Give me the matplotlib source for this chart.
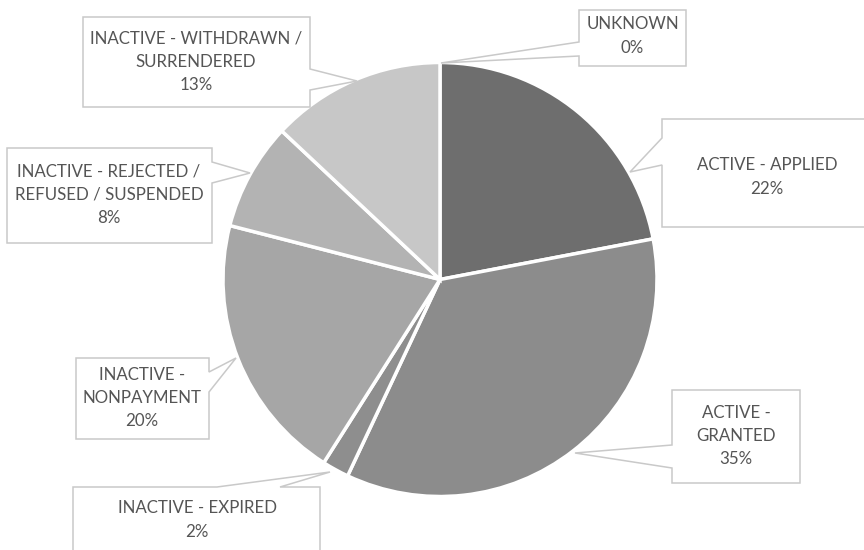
import matplotlib
matplotlib.use("Agg")
import matplotlib.pyplot as plt
from matplotlib.patches import Polygon

# Status breakdown, clockwise from 12 o'clock
categories = [
    "UNKNOWN",
    "ACTIVE - APPLIED",
    "ACTIVE - GRANTED",
    "INACTIVE - EXPIRED",
    "INACTIVE - NONPAYMENT",
    "INACTIVE - REJECTED / REFUSED / SUSPENDED",
    "INACTIVE - WITHDRAWN / SURRENDERED",
]
shares = [0, 22, 35, 2, 20, 8, 13]
label_text = [
    "UNKNOWN",
    "ACTIVE - APPLIED",
    "ACTIVE -\nGRANTED",
    "INACTIVE - EXPIRED",
    "INACTIVE -\nNONPAYMENT",
    "INACTIVE - REJECTED /\nREFUSED / SUSPENDED",
    "INACTIVE - WITHDRAWN /\nSURRENDERED",
]
colors = ["#7a7a7a", "#6e6e6e", "#8c8c8c", "#8e8e8e", "#a6a6a6", "#b3b3b3", "#c7c7c7"]

W, H = 864, 550
fig = plt.figure(figsize=(W / 100, H / 100), dpi=100)
ax = fig.add_axes([0, 0, 1, 1])


def Y(py):
    return H - py


ax.pie(shares, colors=colors, startangle=90, counterclock=False,
       center=(440, Y(279.5)), radius=217,
       wedgeprops=dict(edgecolor="white", linewidth=2.5))
ax.set_xlim(0, W)
ax.set_ylim(0, H)
ax.set_aspect("equal")
ax.axis("off")

# Callout boxes: (x0, y0, x1, y1) box in pixels, side of pointer, pointer base span, pointer tip
callouts = [
    ((579, 10, 686, 66), "left", (42, 56), (441, 63)),
    ((662, 119, 874, 227), "left", (138, 165), (630, 172)),
    ((672, 390, 800, 483), "left", (445, 468), (575, 453)),
    ((73, 487, 320, 560), "top", (217, 280), (330, 472)),
    ((76, 358, 209, 439), "right", (372, 392), (236, 358)),
    ((7, 148, 212, 243), "right", (162, 183), (250, 173)),
    ((83, 17, 310, 107), "right", (69, 90), (357, 81)),
]
text_centers = [(632.5, 36), (767, 177), (736, 436), (197, 520),
                (142, 398), (109, 195), (196, 62)]

for text, share, (box, side, (a, b), tip), (tx, ty) in zip(
        label_text, shares, callouts, text_centers):
    x0, y0, x1, y1 = box
    if side == "top":
        pts = [(x0, y0), (a, y0), tip, (b, y0), (x1, y0), (x1, y1), (x0, y1)]
    elif side == "right":
        pts = [(x0, y0), (x1, y0), (x1, a), tip, (x1, b), (x1, y1), (x0, y1)]
    else:
        pts = [(x0, y0), (x1, y0), (x1, y1), (x0, y1), (x0, b), tip, (x0, a)]
    poly = Polygon([(px, Y(py)) for px, py in pts], closed=True,
                   facecolor="white", edgecolor="#c9c9c9", linewidth=1.1,
                   zorder=5, joinstyle="miter")
    ax.add_patch(poly)
    ax.text(tx, Y(ty), f"{text}\n{share}%", ha="center", va="center",
            fontsize=12.2, family="Lato", color="#555555",
            linespacing=1.55, zorder=6)

fig.savefig("out.png", dpi=100)
